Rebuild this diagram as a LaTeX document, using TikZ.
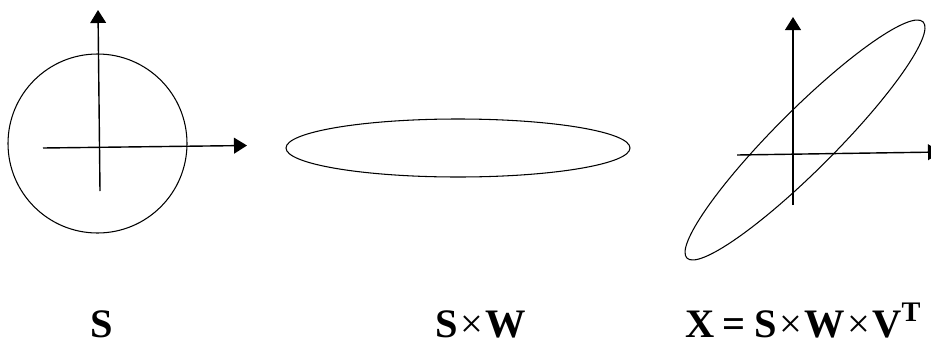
\documentclass[tikz,border=0pt]{standalone}
\usepackage{fontspec}
\setmainfont{Liberation Serif}
\usetikzlibrary{arrows.meta}
\newcommand{\by}{\hspace{0.06em}{\mdseries ×}\hspace{0.06em}}
\tikzset{
  lbl/.style={font=\bfseries\fontsize{11.5}{14}\selectfont, anchor=base, inner sep=0pt},
  curve/.style={line width=0.3pt},
  axis/.style={line width=0.4pt, ->}
}
\begin{document}
\begin{tikzpicture}[x=0.01cm, y=0.01cm, >={Triangle[length=3.7pt,width=4.5pt]}]
 \useasboundingbox (0,0) rectangle (931,342);
 \clip (0,0) rectangle (931,342);

 % define a new command for a pair of axes with {name}{west}{east}{south}{north}
 \newcommand{\Axes}[5]{
  \coordinate (#1w) at #2;
  \coordinate (#1e) at #3;
  \coordinate (#1s) at #4;
  \coordinate (#1n) at #5;
  \draw [axis] (#1w) -- (#1e);
  \draw [axis] (#1s) -- (#1n);
 }

 % source: unit circle
 \draw [curve] (97.5,198.5) circle (89.5);
 \Axes{s}{(43,194)}{(247,196.5)}{(100,151)}{(98,332)}

 % scaled by W: flat ellipse
 \draw [curve] (458,194) ellipse (172 and 29);

 % rotated by V^T: tilted ellipse
 \draw [curve, rotate around={45:(805,202)}] (805,202) ellipse (167 and 30);
 \Axes{x}{(737,187)}{(941,190)}{(793,137)}{(793,325)}

 % captions
 \node [lbl] (capS)  at (102,5) {S};
 \node [lbl] (capSW) at (481,5) {S\by W};
 \node [lbl] (capX)  at (804,5) {X\hspace{0.2em}=\hspace{0.2em}S\by W\by V\textsuperscript{T}};
\end{tikzpicture}
\end{document}
